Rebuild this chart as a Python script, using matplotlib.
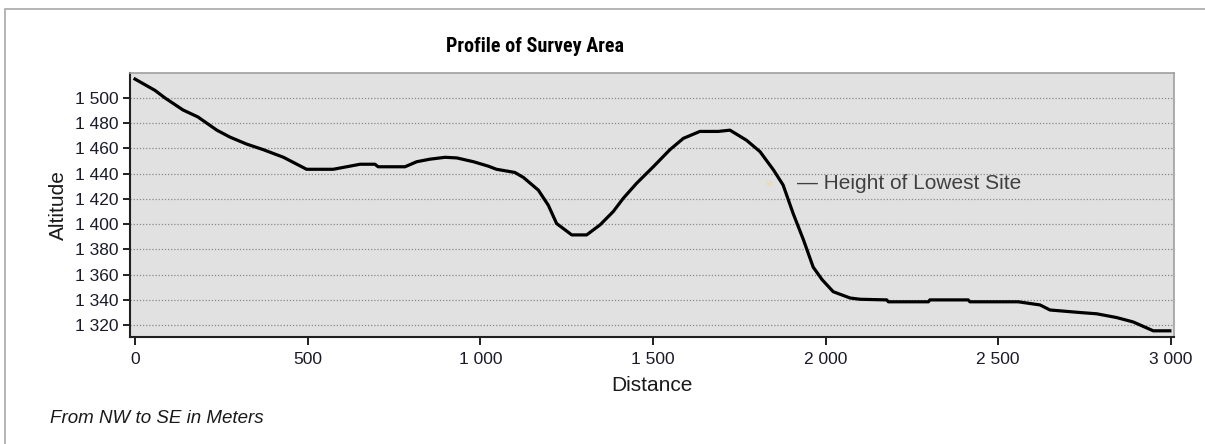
import matplotlib
matplotlib.use("Agg")
import matplotlib.pyplot as plt
from matplotlib import font_manager
from matplotlib.ticker import FuncFormatter, MultipleLocator
from matplotlib.patches import Rectangle

# profile
distance = [0, 58, 87, 139, 182, 237, 275, 323, 372, 430, 497, 574, 613, 652, 695, 704,
            782, 816, 854, 898, 932, 980, 1023, 1047, 1100, 1125, 1168, 1197, 1221, 1265,
            1308, 1347, 1385, 1414, 1453, 1501, 1549, 1588, 1636, 1689, 1723, 1771, 1810,
            1849, 1877, 1906, 1936, 1964, 1990, 2022, 2071, 2100, 2177, 2182, 2298, 2302,
            2413, 2418, 2558, 2621, 2650, 2737, 2785, 2843, 2891, 2949, 2997]
altitude = [1515, 1506, 1500, 1490.5, 1485, 1474.5, 1469, 1463.5, 1459, 1453, 1443.5,
            1443.5, 1445.5, 1447.5, 1447.5, 1445.5, 1445.5, 1449.5, 1451.5, 1453, 1452.5,
            1449.5, 1446, 1443.5, 1441, 1437, 1427, 1415, 1400.5, 1391.5, 1391.5, 1399.5,
            1410, 1420.5, 1432.5, 1445.5, 1459, 1468, 1473.5, 1473.5, 1474.5, 1466.5,
            1457.5, 1443, 1431, 1408.5, 1387.5, 1366, 1356, 1346.5, 1341.5, 1340.5, 1340,
            1338.5, 1338.5, 1340, 1340, 1338.5, 1338.5, 1336, 1332, 1330, 1329, 1326,
            1322.5, 1315.5, 1315.5]

lowest_site_label = "— Height of Lowest Site"
lowest_site_x = 1917
lowest_site_y = 1432.5

plt.rcParams['font.family'] = ['Liberation Sans', 'DejaVu Sans']

# narrow bold face for the title, if there is one
names = {f.name for f in font_manager.fontManager.ttflist}
if 'Liberation Sans Narrow' in names:
    title_font = dict(family=['Liberation Sans Narrow', 'DejaVu Sans'], fontsize=15)
elif 'Roboto Condensed' in names:
    title_font = dict(family=['Roboto Condensed', 'DejaVu Sans'], fontsize=14.5)
else:
    title_font = dict(family=['DejaVu Sans'], fontstretch='condensed', fontsize=13)

fig = plt.figure(figsize=(12.05, 4.44), dpi=100)
ax = fig.add_axes([130 / 1205, 1 - 337 / 444, 1044 / 1205, 264 / 444])

# outer frame of the picture
fig.patches.append(Rectangle((5 / 1205, -0.1), 1.2, 1 - 9 / 444 + 0.1, transform=fig.transFigure,
                             fill=False, edgecolor="#a8a8a8", linewidth=1.2))

ax.set_facecolor("#e1e1e1")
ax.plot(distance, altitude, color="black", linewidth=2.3, zorder=3)

ax.set_xlim(-14.5, 3009)
ax.set_ylim(1310.6, 1519.8)
ax.xaxis.set_major_locator(MultipleLocator(500))
ax.yaxis.set_major_locator(MultipleLocator(20))
fmt = FuncFormatter(lambda v, p: f"{int(round(v)):,}".replace(",", " "))
ax.xaxis.set_major_formatter(fmt)
ax.yaxis.set_major_formatter(fmt)

ax.grid(axis="y", linestyle=(0, (1, 1.5)), color="#8a8a8a", linewidth=0.9)
ax.set_axisbelow(True)

for s in ["top", "right"]:
    ax.spines[s].set_color("#a0a0a0")
    ax.spines[s].set_linewidth(1.2)
for s in ["left", "bottom"]:
    ax.spines[s].set_color("#202020")
    ax.spines[s].set_linewidth(1.5)

ax.tick_params(axis="y", direction="out", length=5, width=1.4, color="#202020",
               labelsize=12.5, labelcolor="#1a1a2a", pad=3)
ax.tick_params(axis="x", direction="out", length=6, width=1.4, color="#202020",
               labelsize=12.5, labelcolor="#1a1a2a", pad=5)

ax.set_xlabel("Distance", fontsize=15, color="#1a1a1a", labelpad=6)
ax.set_ylabel("Altitude", fontsize=15, color="#1a1a1a", labelpad=5)

ax.plot([lowest_site_x - 80], [lowest_site_y], marker="s", markersize=3,
        color="#e8dcc0", zorder=2)
ax.text(lowest_site_x, lowest_site_y, lowest_site_label, fontsize=15, color="#404040",
        va="center", ha="left")

fig.text(535 / 1205, 1 - 47 / 444, "Profile of Survey Area", fontweight="bold",
         ha="center", va="center", color="black", **title_font)
fig.text(50 / 1205, 1 - 418 / 444, "From NW to SE in Meters", fontsize=13.5,
         style="italic", ha="left", va="center", color="#1a1a1a")

fig.savefig("out.png", dpi=100)
